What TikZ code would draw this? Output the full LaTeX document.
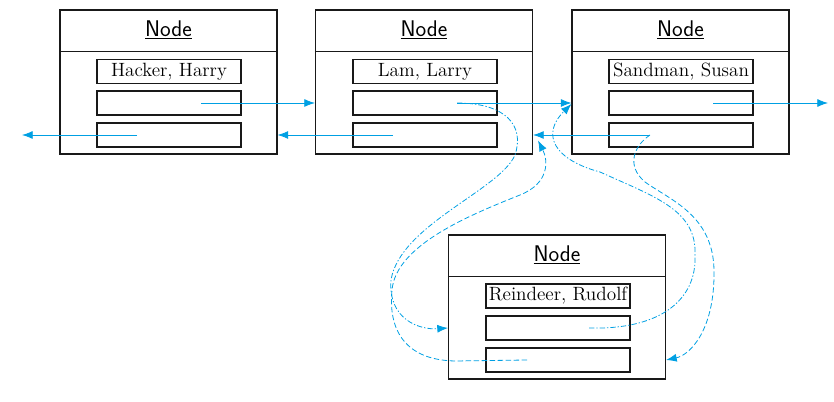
\documentclass[tikz,border=0pt]{standalone}
\usetikzlibrary{arrows.meta,calc}
\definecolor{ptrblue}{RGB}{0,160,227}
\begin{document}
\begin{tikzpicture}[x=0.75pt,y=-0.75pt,
  outer/.style={draw=black!90, line width=0.8pt, minimum width=162.75pt, minimum height=108pt, inner sep=0pt},
  field/.style={draw=black!90, line width=0.8pt, minimum width=108pt, minimum height=18pt, inner sep=0pt, font=\fontsize{14.4}{16}\selectfont},
  head/.style={inner sep=0pt, font=\sffamily\fontsize{17}{20}\selectfont},
  ptr/.style={draw=ptrblue, line width=0.6pt, -{Latex[length=8pt,width=6pt]}},
  dashdot/.style={ptr, dash pattern=on 4pt off 1.5pt on 1pt off 1.5pt},
  dashlong/.style={ptr, dash pattern=on 4pt off 2pt},
]
\useasboundingbox (0,0) rectangle (834,402);

% Box 1
\node[outer] (b1) at (168.5,82) {};
\draw[line width=0.8pt,black!90] ([yshift=-31.5pt]b1.north west) -- ([yshift=-31.5pt]b1.north east);
\node[head] (h1) at (168.5,30) {\underline{Node}};
\node[field] (f1a) at (169,71.5) {Hacker, Harry};
\node[field] (f1n) at (169,103) {};
\node[field] (f1p) at (169,135) {};

% Box 2
\node[outer] (b2) at (424,82) {};
\draw[line width=0.8pt,black!90] ([yshift=-31.5pt]b2.north west) -- ([yshift=-31.5pt]b2.north east);
\node[head] (h2) at (424,30) {\underline{Node}};
\node[field] (f2a) at (425,71.5) {Lam, Larry};
\node[field] (f2n) at (425,103) {};
\node[field] (f2p) at (425,135) {};

% Box 3
\node[outer] (b3) at (680.5,82) {};
\draw[line width=0.8pt,black!90] ([yshift=-31.5pt]b3.north west) -- ([yshift=-31.5pt]b3.north east);
\node[head] (h3) at (680.5,30) {\underline{Node}};
\node[field] (f3a) at (681,71.5) {Sandman, Susan};
\node[field] (f3n) at (681,103) {};
\node[field] (f3p) at (681,135) {};

% Box 4
\node[outer] (b4) at (557,307) {};
\draw[line width=0.8pt,black!90] ([yshift=-31.5pt]b4.north west) -- ([yshift=-31.5pt]b4.north east);
\node[head] (h4) at (557,255) {\underline{Node}};
\node[field] (f4a) at (558,296) {Reindeer, Rudolf};
\node[field] (f4n) at (558,328) {};
\node[field] (f4p) at (558,360) {};

% pointer start points
\coordinate (s1n) at ([xshift=24pt]f1n.center);
\coordinate (s1p) at ([xshift=-24pt]f1p.center);
\coordinate (s2n) at ([xshift=24pt]f2n.center);
\coordinate (s2p) at ([xshift=-24pt]f2p.center);
\coordinate (s3n) at ([xshift=24pt]f3n.center);
\coordinate (s3p) at ([xshift=-23.25pt]f3p.center);
\coordinate (s4n) at ([xshift=23.25pt]f4n.center);
\coordinate (s4p) at ([xshift=-23.25pt]f4p.center);
% free ends
\coordinate (e1p) at (22,135);
\coordinate (e3n) at (828,103);
\coordinate (t2) at ([shift={(5,-14)}]b2.south east);
\coordinate (t3) at ([yshift=-16.5pt]b3.west);

% solid pointers
\draw[ptr] (s1n) -- (b2.west |- s1n);
\draw[ptr] (s1p) -- (e1p);
\draw[ptr] (s2n) -- (b3.west |- s2n);
\draw[ptr] (s2p) -- (b1.east |- s2p);
\draw[ptr] (s3n) -- (e3n);
\draw[ptr] (s3p) -- (b2.east |- s3p);

% dashed pointers (insertion)
\draw[dashdot] (s2n) .. controls (505,103) and (525,125) .. (515,155)
  .. controls (500,190) and (400,225) .. (391,280)
  .. controls (388,320) and (420,330) .. (b4.west |- f4n);
\draw[dashlong] (s4p) -- (455,361) .. controls (405,360) and (388,330) .. (392,290)
  .. controls (396,245) and (470,215) .. (520,195)
  .. controls (550,183) and (548,160) .. (t2);
\draw[dashdot] (s4n) .. controls (660,330) and (697,300) .. (695,255)
  .. controls (697,210) and (655,197) .. (600,172)
  .. controls (555,160) and (540,135) .. (t3);
\draw[dashlong] (s3p) .. controls (635,145) and (625,165) .. (645,182)
  .. controls (670,200) and (713,215) .. (714,270)
  .. controls (715,330) and (690,355) .. (b4.east |- f4p);
\end{tikzpicture}
\end{document}
